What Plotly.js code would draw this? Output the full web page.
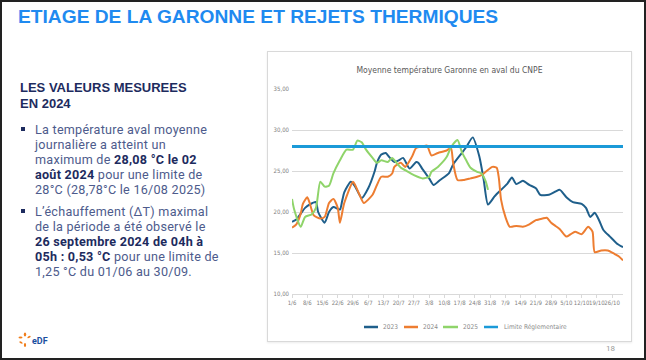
<!DOCTYPE html>
<html>
<head>
<meta charset="utf-8">
<script src="https://cdn.plot.ly/plotly-3.0.1.min.js"></script>
<style>
  html, body { margin:0; padding:0; }
  body { width:646px; height:360px; position:relative; overflow:hidden; background:#fff; font-family:Roboto,"Open Sans",sans-serif; }
  #frame { position:absolute; left:0; top:0; width:646px; height:360px; box-sizing:border-box; border:2px solid #222; pointer-events:none; z-index:5; }
  #title { position:absolute; left:18px; top:6px; font-family:"Liberation Sans",Arial,sans-serif; font-weight:700; font-size:19.2px; color:#1f8af0; white-space:nowrap; }
  #sub { position:absolute; left:20px; top:80px; font-family:"Liberation Sans",Arial,sans-serif; font-weight:700; font-size:13px; line-height:16px; color:#1d2b5e; }
  .ln { position:absolute; left:35px; font-family:Roboto,sans-serif; font-size:12.6px; line-height:15px; letter-spacing:0.25px; color:#4d5b8c; white-space:nowrap; }
  .ln b { color:#1d2b5e; font-weight:700; }
  .sq { position:absolute; left:21px; width:4px; height:4px; background:#1d2b5e; }
  #box { position:absolute; left:267px; top:51px; width:365px; height:291px; box-sizing:border-box; border:1px solid #d9d9d9; box-shadow:0 1px 2px rgba(0,0,0,0.08); }
  #chart { position:absolute; left:267px; top:51px; width:365px; height:291px; }
  #page { position:absolute; left:606px; top:344px; font-size:8px; color:#9a9a9a; }
  #logo { position:absolute; left:18px; top:332px; }
</style>
</head>
<body>
<div id="frame"></div>
<div id="title">ETIAGE DE LA GARONNE ET REJETS THERMIQUES</div>
<div id="sub">LES VALEURS MESUREES<br>EN 2024</div>
<div class="sq" style="top:127px"></div>
<div class="ln" style="top:122px">La température aval moyenne</div>
<div class="ln" style="top:137px">journalière a atteint un</div>
<div class="ln" style="top:152px">maximum de <b>28,08 °C le 02</b></div>
<div class="ln" style="top:167px"><b>août 2024</b> pour une limite de</div>
<div class="ln" style="top:182px">28°C (28,78°C le 16/08 2025)</div>
<div class="sq" style="top:209px"></div>
<div class="ln" style="top:204px">L’échauffement (ΔT) maximal</div>
<div class="ln" style="top:219px">de la période a été observé le</div>
<div class="ln" style="top:234px"><b>26 septembre 2024 de 04h à</b></div>
<div class="ln" style="top:249px"><b>05h : 0,53 °C</b> pour une limite de</div>
<div class="ln" style="top:264px">1,25 °C du 01/06 au 30/09.</div>
<div id="box"></div>
<div id="chart"></div>
<svg id="logo" width="40" height="16" viewBox="0 0 40 16">
  <g fill="#f07d1a">
    <ellipse cx="7" cy="2.5" rx="1.2" ry="2"/>
    <ellipse cx="2.5" cy="5.5" rx="2" ry="1.1"/>
    <ellipse cx="11" cy="5" rx="1.8" ry="1" transform="rotate(-30 11 5)"/>
    <ellipse cx="3" cy="10.5" rx="1.8" ry="1" transform="rotate(30 3 10.5)"/>
    <ellipse cx="7" cy="13" rx="1.1" ry="2"/>
  </g>
  <text x="14" y="11.5" font-family="Roboto, sans-serif" font-weight="700" font-size="9" fill="#1a4fa0">eDF</text>
</svg>
<div id="page">18</div>
<script>
// ---- data (day offsets from 1 June) ----
const tickDays = [0,7,14,21,28,35,42,49,56,63,70,77,84,91,98,105,112,119,126,133,140,147];
const tickLabels = ["1/6","8/6","15/6","22/6","29/6","6/7","13/7","20/7","27/7","3/8","10/8","17/8","24/8","31/8","7/9","14/9","21/9","28/9","5/10","12/10","19/10","26/10"];

const days2023 = [0,2,6,8,11,12,15,17,19,22,23,24,27,29,32,35,38,39,41,43,45,47,49,51,54,57,58,60,63,65,68,72,74,78,80,83,86,88,90,93,96,99,101,103,106,109,112,114,118,121,123,126,129,133,135,137,139,141,143,146,149,152];
const temp2023 = [18.8,19.1,20.5,20.9,21.2,20.0,18.7,20.0,20.6,20.3,21.3,22.4,23.7,23.1,21.7,22.9,25.0,26.0,27.0,27.2,26.6,26.1,26.3,26.6,25.3,26.1,26.0,25.2,24.1,23.3,23.9,24.7,25.8,27.2,27.9,29.1,26.8,24.0,20.9,21.9,22.7,23.5,24.2,23.4,23.8,23.3,22.9,22.1,22.1,22.5,22.7,21.8,21.2,21.0,20.5,19.4,19.9,19.0,17.8,17.0,16.2,15.7];

const days2024 = [0,2,4,5,7,8,10,13,15,17,19,21,22,24,28,29,31,33,37,39,41,44,46,47,50,52,55,57,60,62,64,67,71,73,74,76,79,82,85,87,89,92,94,95,96,98,100,103,106,109,112,115,117,119,121,123,126,128,130,133,136,138,139,142,145,148,150,152];
const temp2024 = [18.1,18.5,19.8,21.0,21.8,21.2,19.6,19.2,19.4,21.1,21.6,20.5,18.7,21.1,23.7,23.3,22.1,21.1,22.1,23.3,24.3,24.3,24.7,25.5,26.0,25.5,26.7,27.8,28.0,28.1,26.9,27.2,27.5,27.8,26.0,23.9,23.9,24.1,24.3,24.5,24.9,25.5,25.4,24.1,21.5,19.4,18.2,18.3,18.2,18.5,19.0,19.2,19.3,18.7,18.3,17.9,17.0,17.3,17.6,17.3,18.2,17.6,15.1,15.3,15.3,14.9,14.6,14.1];

const days2025 = [0,1,4,6,9,11,13,15,17,19,22,25,28,30,32,34,37,39,41,44,46,48,50,52,56,60,63,64,67,71,73,76,78,80,82,85,87,89,90];
const temp2025 = [21.6,20.3,18.2,19.4,19.7,20.5,23.7,23.1,23.2,24.7,26.3,27.6,27.6,28.7,28.5,27.6,26.6,26.0,26.3,26.1,26.6,26.0,25.4,25.1,24.5,24.1,24.3,24.9,25.5,26.7,27.9,28.78,27.3,26.3,25.4,24.9,24.7,23.7,22.7];

const limitDays = [0,152];
const limitTemp = [28,28];

const seriesNames = ["2023","2024","2025","Limite Réglementaire"];
const seriesColors = ["#1f5f8b","#ed7d31","#8fd46a","#1b9ad8"];

const narrow = "DejaVu Sans Condensed, Liberation Sans Narrow, Roboto, sans-serif";

const traces = [
  {x: days2023, y: temp2023, name: seriesNames[0], mode:"lines", line:{color:seriesColors[0], width:2, shape:"spline", smoothing:0.6}},
  {x: days2024, y: temp2024, name: seriesNames[1], mode:"lines", line:{color:seriesColors[1], width:2, shape:"spline", smoothing:0.6}},
  {x: days2025, y: temp2025, name: seriesNames[2], mode:"lines", line:{color:seriesColors[2], width:2, shape:"spline", smoothing:0.6}},
  {x: limitDays, y: limitTemp, name: seriesNames[3], mode:"lines", line:{color:seriesColors[3], width:3}}
];

// compact legend (Excel style): short line + label, in plot-area (paper) coordinates
const legLineX = [[0.2175,0.2598],[0.3384,0.3807],[0.4562,0.5015],[0.5801,0.6224]];
const legTextX = [0.2689,0.3897,0.5106,0.6344];
const legY = -0.161;
const shapes = seriesNames.map((n,i)=>({type:"line", xref:"paper", yref:"paper", x0:legLineX[i][0], x1:legLineX[i][1], y0:legY, y1:legY,
  line:{color:seriesColors[i], width:2.5}}));
const annotations = seriesNames.map((n,i)=>({xref:"paper", yref:"paper", x:legTextX[i], y:legY, xanchor:"left", yanchor:"middle",
  text:n, showarrow:false, font:{family:narrow, size:6.5, color:"#8a8a8a"}}));

const layout = {
  width:365, height:291,
  margin:{l:25, r:9, t:38, b:48, autoexpand:false},
  paper_bgcolor:"rgba(0,0,0,0)", plot_bgcolor:"rgba(0,0,0,0)",
  separators:", ",
  font:{family:narrow, color:"#8a8a8a", size:7},
  title:{text:"Moyenne température Garonne en aval du CNPE", x:0.5, xanchor:"center", y:0.935, yanchor:"middle",
         font:{family:narrow, size:8.5, color:"#595959"}},
  xaxis:{range:[0,152], tickmode:"array", tickvals:tickDays, ticktext:tickLabels, showgrid:false, zeroline:false,
         showline:true, linecolor:"#d9d9d9", ticks:"outside", ticklen:3, tickcolor:"#d9d9d9",
         tickangle:0, tickfont:{size:6, color:"#808080"}, automargin:false},
  yaxis:{range:[10,35], dtick:5, tick0:10, tickformat:".2f", gridcolor:"#d9d9d9", gridwidth:1, zeroline:false,
         showline:false, tickfont:{size:6, color:"#808080"}, ticklabelstandoff:2, automargin:false},
  showlegend:false,
  shapes: shapes,
  annotations: annotations
};

Plotly.newPlot("chart", traces, layout, {staticPlot:true, displayModeBar:false});
</script>
</body>
</html>
